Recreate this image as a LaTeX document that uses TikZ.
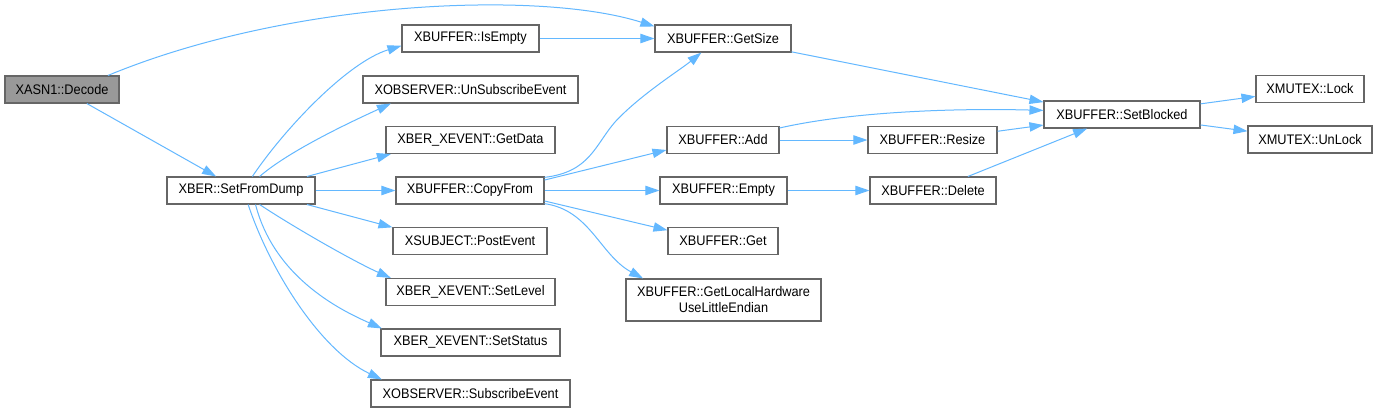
\documentclass[tikz,border=0pt]{standalone}
\usepackage{fontspec}
\setmainfont{Liberation Sans}[FakeStretch=0.92]
\usetikzlibrary{positioning,arrows.meta}
\definecolor{edgeblue}{HTML}{63B8FF}
\definecolor{boxgray}{HTML}{666666}
\definecolor{rootgray}{HTML}{999999}

\begin{document}
\begin{tikzpicture}[x=0.75pt,y=-0.75pt,
    fn/.style={draw=boxgray, line width=0.8pt, fill=white, inner sep=0pt,
      minimum height=20.25pt, minimum width=#1*0.75pt,
      font=\fontsize{10.4}{12}\selectfont},
    root/.style={fn=#1, fill=rootgray},
    call/.style={edgeblue, line width=0.75pt, -{Triangle[length=10.5pt,width=7pt]}}]
  \path[use as bounding box, fill=white] (0,0) rectangle (1377,412);
  % Caller
  \node[root=114] (decode) at (62,89.5) {XASN1::Decode};
  \node[fn=148] (setfromdump) at (241,190.5) {XBER::SetFromDump};
  % Callees of SetFromDump
  \node[fn=137] (isempty) at (470.5,38.5) {XBUFFER::IsEmpty};
  \node[fn=215] (unsubscribe) at (470.5,89.5) {XOBSERVER::UnSubscribeEvent};
  \node[fn=169] (getdata) at (470.5,140) {XBER\_XEVENT::GetData};
  \node[fn=148] (copyfrom) at (470,190.5) {XBUFFER::CopyFrom};
  \node[fn=154] (postevent) at (470,241) {XSUBJECT::PostEvent};
  \node[fn=169] (setlevel) at (470.5,292) {XBER\_XEVENT::SetLevel};
  \node[fn=179] (setstatus) at (470.5,342.5) {XBER\_XEVENT::SetStatus};
  \node[fn=199] (subscribe) at (470.5,393.5) {XOBSERVER::SubscribeEvent};
  % Buffer functions
  \node[fn=136] (getsize) at (723,38.5) {XBUFFER::GetSize};
  \node[fn=112] (add) at (723,140) {XBUFFER::Add};
  \node[fn=127] (empty) at (723.5,190.5) {XBUFFER::Empty};
  \node[fn=110] (get) at (723,241) {XBUFFER::Get};
  \node[fn=195, minimum height=31.5pt, align=center] (getlocal) at (723.5,300)
    {XBUFFER::GetLocalHardware\\UseLittleEndian};
  \node[fn=129] (resize) at (932.5,140) {XBUFFER::Resize};
  \node[fn=126] (delete) at (933,190.5) {XBUFFER::Delete};
  \node[fn=156] (setblocked) at (1122,114.5) {XBUFFER::SetBlocked};
  % Mutex
  \node[fn=108] (lock) at (1310,89) {XMUTEX::Lock};
  \node[fn=124] (unlock) at (1310,139.5) {XMUTEX::UnLock};

  % Calls from Decode
  \draw[call] (decode.17) .. controls (290,0) and (540,-10) .. (getsize.170);
  \draw[call] (decode) -- (setfromdump);
  % Calls from SetFromDump
  \draw[call] (setfromdump.51) .. controls (285,128) and (348,62) .. (isempty.186);
  \draw[call] (setfromdump.37) .. controls (290,150) and (355,120) .. (unsubscribe.190);
  \draw[call] (setfromdump.12) -- (getdata.190);
  \draw[call] (setfromdump) -- (copyfrom);
  \draw[call] (setfromdump.-12) -- (postevent.170);
  \draw[call] (setfromdump.-37) .. controls (295,228) and (355,262) .. (setlevel.170);
  \draw[call] (setfromdump.-44) .. controls (275,280) and (345,312) .. (setstatus.171);
  \draw[call] (setfromdump.-63) .. controls (270,270) and (320,350) .. (subscribe.171);
  % Calls from CopyFrom
  \draw[call] (copyfrom.10) .. controls (590,172) and (595,145) .. (615,122)
    .. controls (640,95) and (680,70) .. (getsize.213);
  \draw[call] (copyfrom.8) -- (add.190);
  \draw[call] (copyfrom) -- (empty);
  \draw[call] (copyfrom.-8) -- (get.169);
  \draw[call] (copyfrom.-10) .. controls (590,210) and (600,255) .. (getlocal.165);
  % Remaining calls
  \draw[call] (isempty) -- (getsize);
  \draw[call] (add.12) .. controls (850,112) and (950,108) .. (setblocked.177);
  \draw[call] (add) -- (resize);
  \draw[call] (empty) -- (delete);
  \draw[call] (getsize.-11) -- (setblocked.171);
  \draw[call] (resize) -- (setblocked);
  \draw[call] (delete) -- (setblocked);
  \draw[call] (setblocked) -- (lock);
  \draw[call] (setblocked) -- (unlock);
\end{tikzpicture}
\end{document}
